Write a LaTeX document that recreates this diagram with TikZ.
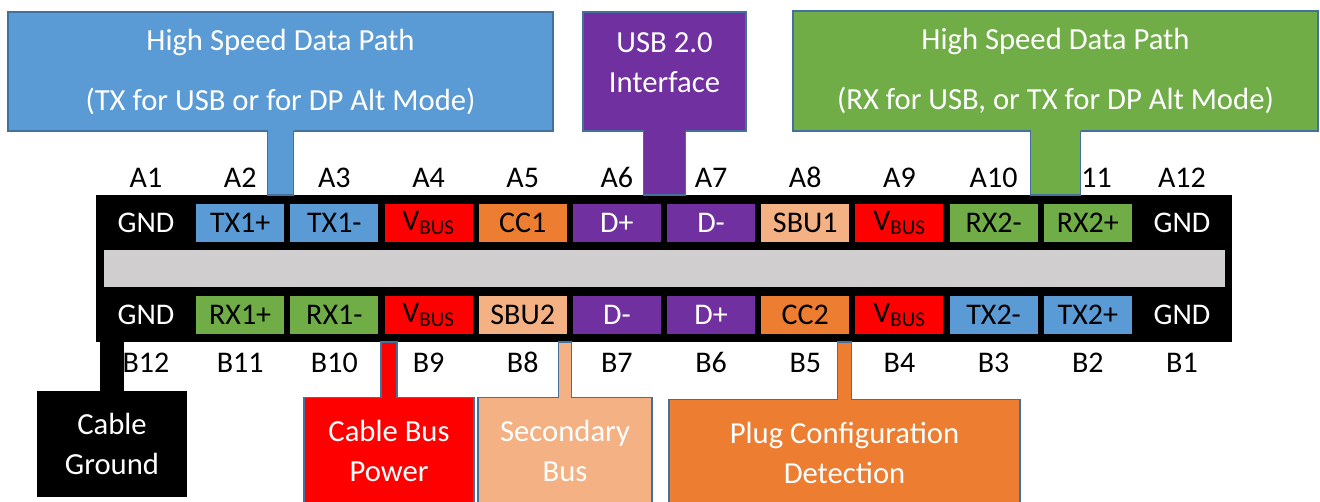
\documentclass[tikz,border=0pt]{standalone}
\usepackage{fontspec}
\setmainfont{Carlito}
\usetikzlibrary{positioning,calc}
\definecolor{usbblue}{HTML}{5B9BD5}
\definecolor{usbgreen}{HTML}{70AD47}
\definecolor{usbpurple}{HTML}{7030A0}
\definecolor{usbred}{HTML}{FF0000}
\definecolor{usborange}{HTML}{ED7D31}
\definecolor{usbpeach}{HTML}{F4B183}
\definecolor{usbgray}{HTML}{D0CECE}
\definecolor{calledge}{HTML}{41719C}
\newcommand{\vbus}{V\textsubscript{BUS}}
\tikzset{
  pin/.style={rectangle, minimum width=66pt, minimum height=28.5pt, inner sep=0pt, font=\fontsize{22.5}{26}\selectfont},
  pingnd/.style={pin, text=white},
  pinblue/.style={pin, fill=usbblue},
  pingreen/.style={pin, fill=usbgreen},
  pinred/.style={pin, fill=usbred},
  pinorange/.style={pin, fill=usborange},
  pinpeach/.style={pin, fill=usbpeach},
  pinpurple/.style={pin, fill=usbpurple, text=white},
  pinlbl/.style={anchor=base, inner sep=0pt, font=\fontsize{22.5}{26}\selectfont},
  callout/.style={draw=calledge, line width=1.2pt, text=white, align=center, inner sep=0pt, font=\fontsize{23}{30}\selectfont},
  callouttxt/.style={text=white, align=center, inner sep=0pt, font=\fontsize{23}{30}\selectfont},
  stemline/.style={draw=calledge, line width=1.2pt},
}

\begin{document}
\begin{tikzpicture}[x=0.75pt, y=-0.75pt]
\useasboundingbox (0,0) rectangle (1320,502);
% plug body and tongue
\node[fill=black, minimum width=852pt, minimum height=110.25pt, inner sep=0pt] (plug) at (664,268.5) {};
\node[fill=usbgray, minimum width=840.75pt, minimum height=27.75pt, inner sep=0pt] (tongue) at (664.5,268.5) {};
% row A
\foreach \k/\t/\s in {1/GND/pingnd, 2/TX1+/pinblue, 3/TX1-/pinblue, 4/\vbus/pinred, 5/CC1/pinorange, 6/D+/pinpurple,
    7/D-/pinpurple, 8/SBU1/pinpeach, 9/\vbus/pinred, 10/RX2-/pingreen, 11/RX2+/pingreen, 12/GND/pingnd} {
  \node[\s] (a\k) at ({146+94.18*(\k-1)},223) {\t};
  \node[pinlbl] (la\k) at ({146+94.18*(\k-1)},188) {A\k};
}
% row B (numbered right to left)
\foreach \k/\t/\s [evaluate=\k as \b using int(13-\k)] in {1/GND/pingnd, 2/RX1+/pingreen, 3/RX1-/pingreen, 4/\vbus/pinred,
    5/SBU2/pinpeach, 6/D-/pinpurple, 7/D+/pinpurple, 8/CC2/pinorange, 9/\vbus/pinred, 10/TX2-/pinblue, 11/TX2+/pinblue, 12/GND/pingnd} {
  \node[\s] (b\b) at ({146+94.18*(\k-1)},315) {\t};
  \node[pinlbl] (lb\b) at ({146+94.18*(\k-1)},372) {B\b};
}
% callouts
\node[callout, fill=usbblue, minimum width=408.75pt, minimum height=89.25pt] (hstx) at (280.5,71.5) {High Speed Data Path\\[15pt](TX for USB or for DP Alt Mode)};
\node[callout, fill=usbpurple, minimum width=122.25pt, minimum height=89.25pt] (usb2) at (664.5,71.5) {};
\node[callouttxt] (usb2txt) at (664.5,63) {USB 2.0\\Interface};
\node[callout, fill=usbgreen, minimum width=393.75pt, minimum height=90pt] (hsrx) at (1055.5,71) {High Speed Data Path\\[15pt](RX for USB, or TX for DP Alt Mode)};
\node[callout, fill=black, draw=black, minimum width=111pt, minimum height=78pt] (cgnd) at (112,444) {Cable\\Ground};
\node[callout, fill=usbred, minimum width=127.5pt, minimum height=80pt] (cvbus) at (389,451) {Cable Bus\\Power};
\node[callout, fill=usbpeach, minimum width=130.5pt, minimum height=80pt] (csbu) at (565,451) {Secondary\\Bus};
\node[callout, fill=usborange, minimum width=263.25pt, minimum height=80pt] (ccc) at (844.5,453) {Plug Configuration\\Detection};
% stems down to the plug
\foreach \n/\w/\c in {hstx/13/usbblue, usb2/21/usbpurple, hsrx/25/usbgreen} {
  \fill[\c] ($(\n.south)+(-\w,-3)$) rectangle ($(\n.south |- plug.north)+(\w,0)$);
  \draw[stemline] ($(\n.south)+(-\w,-0.8)$) -- ($(\n.south |- plug.north)+(-\w,0)$) -- ($(\n.south |- plug.north)+(\w,0)$) -- ($(\n.south)+(\w,-0.8)$);
}
% stems up to the plug
\fill[black] ($(cgnd.north)+(-12,2)$) rectangle ($(cgnd.north |- plug.south)+(12,0)$);
\foreach \n/\w/\c in {cvbus/8/usbred, csbu/6.5/usbpeach, ccc/7/usborange} {
  \fill[\c] ($(\n.north)+(-\w,3)$) rectangle ($(\n.north |- plug.south)+(\w,0)$);
  \draw[stemline] ($(\n.north)+(-\w,0.8)$) -- ($(\n.north |- plug.south)+(-\w,0)$) -- ($(\n.north |- plug.south)+(\w,0)$) -- ($(\n.north)+(\w,0.8)$);
}
\end{tikzpicture}
\end{document}
